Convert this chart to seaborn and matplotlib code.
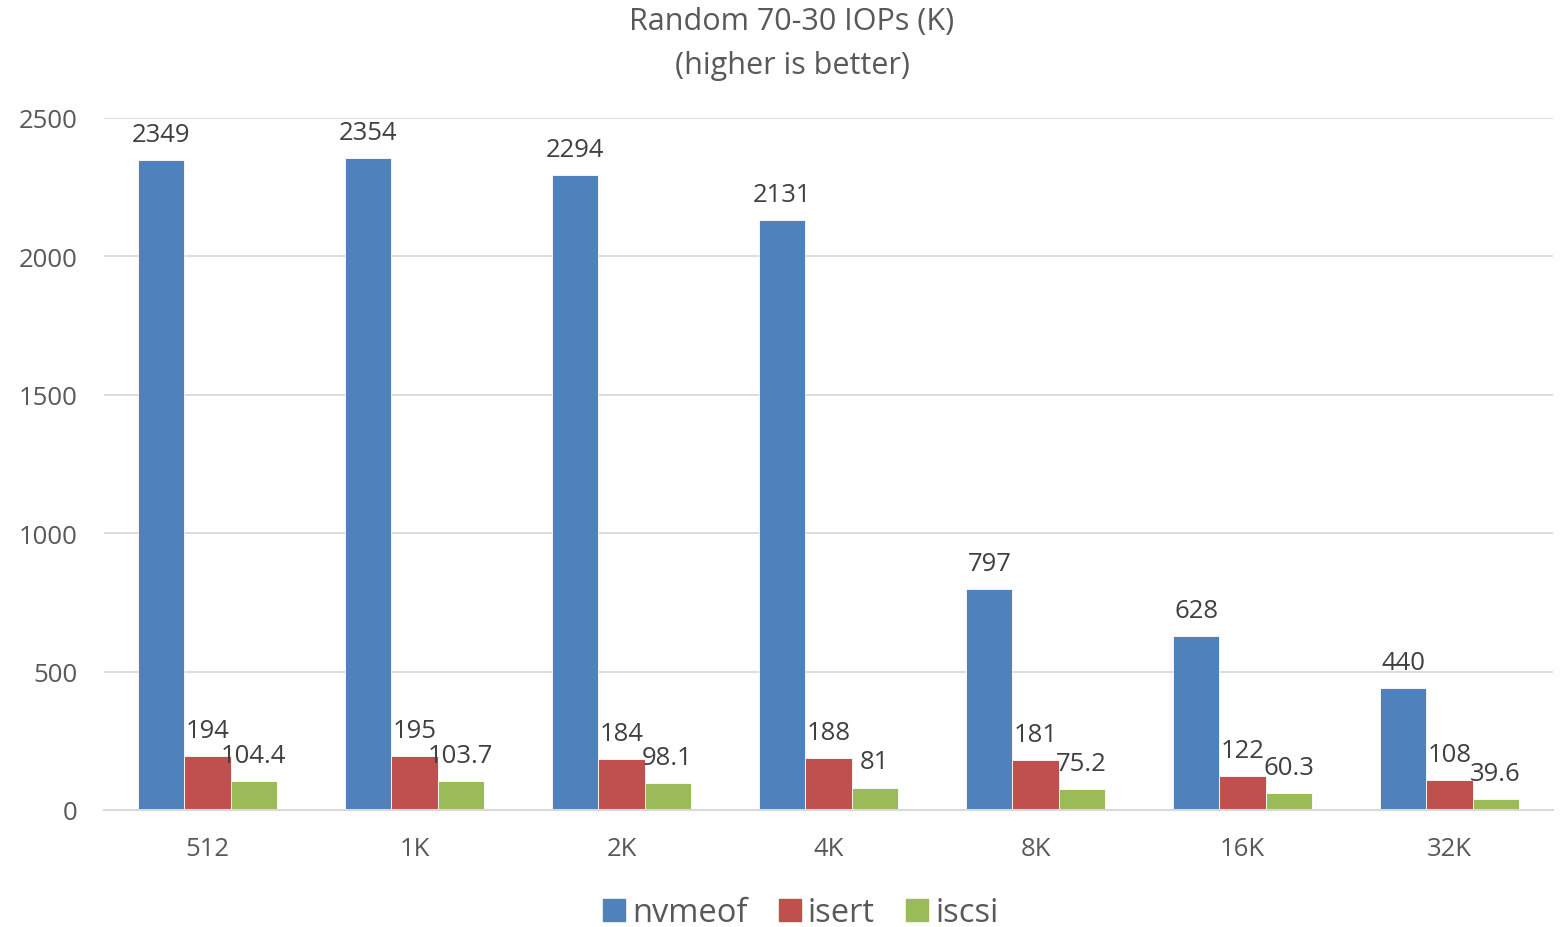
import matplotlib
matplotlib.use("Agg")
import matplotlib.pyplot as plt
import seaborn as sns
import pandas as pd
from matplotlib.lines import Line2D

# Block sizes and measured IOPs (thousands) per transport
block_sizes = ["512", "1K", "2K", "4K", "8K", "16K", "32K"]
series_names = ["nvmeof", "isert", "iscsi"]
nvmeof = [2349, 2354, 2294, 2131, 797, 628, 440]
isert = [194, 195, 184, 188, 181, 122, 108]
iscsi = [104.4, 103.7, 98.1, 81, 75.2, 60.3, 39.6]
value_labels = {
    "nvmeof": ["2349", "2354", "2294", "2131", "797", "628", "440"],
    "isert": ["194", "195", "184", "188", "181", "122", "108"],
    "iscsi": ["104.4", "103.7", "98.1", "81", "75.2", "60.3", "39.6"],
}
colors = ["#4F81BD", "#C0504D", "#9BBB59"]

df = pd.DataFrame({
    "block": block_sizes * 3,
    "series": [s for s in series_names for _ in block_sizes],
    "iops": nvmeof + isert + iscsi,
})

sns.set_theme(style="white")
plt.rcParams["font.family"] = ["Open Sans", "DejaVu Sans"]
text_color = "#595959"

fig = plt.figure(figsize=(15.67, 9.28), dpi=100)
ax = fig.add_axes([104 / 1567, 1 - 811 / 928, (1553 - 104) / 1567, (811 - 119) / 928])

sns.barplot(data=df, x="block", y="iops", hue="series", order=block_sizes,
            hue_order=series_names, palette=colors, width=0.667, gap=0,
            saturation=1, ax=ax, legend=False, errorbar=None,
            edgecolor="white", linewidth=0.6)

for cont, name in zip(ax.containers, series_names):
    ax.bar_label(cont, labels=value_labels[name], padding=9.5, fontsize=18.5,
                 color="#404040")

ax.set_ylim(0, 2500)
ax.set_yticks([0, 500, 1000, 1500, 2000, 2500])
ax.set_xlim(-0.5, len(block_sizes) - 0.5)
ax.yaxis.grid(True, color="#D9D9D9", linewidth=1.3)
ax.set_axisbelow(True)
for side in ["top", "right", "left"]:
    ax.spines[side].set_visible(False)
ax.spines["bottom"].set_color("#D9D9D9")
ax.spines["bottom"].set_linewidth(1.5)
ax.tick_params(axis="both", length=0, labelsize=18.5, colors=text_color)
ax.tick_params(axis="x", pad=19)
ax.tick_params(axis="y", pad=19)
ax.set_xlabel("")
ax.set_ylabel("")

fig.text(792 / 1567, 1 - 44 / 928, "Random 70-30 IOPs (K)\n(higher is better)",
         ha="center", va="center", fontsize=22, color=text_color, linespacing=1.6)

handles = [Line2D([0], [0], marker="s", linestyle="", markersize=16,
                  markerfacecolor=c, markeredgecolor=c) for c in colors]
fig.legend(handles, series_names, loc="center", bbox_to_anchor=(798 / 1567, 1 - 914 / 928),
           ncol=3, frameon=False, fontsize=23.5, handletextpad=0.05, columnspacing=0.8,
           labelcolor=text_color, handlelength=1.0)

fig.savefig("out.png", dpi=100)
